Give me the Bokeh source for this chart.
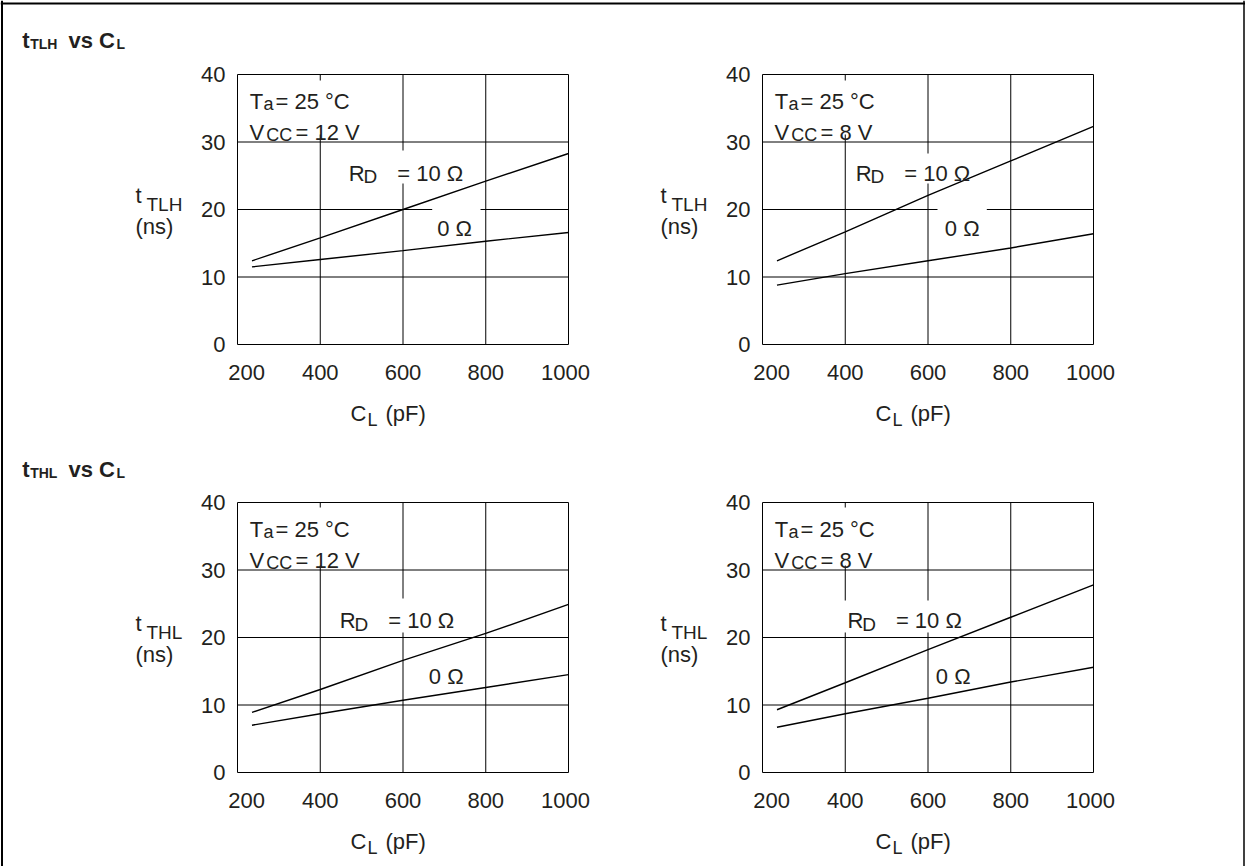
from bokeh.plotting import figure
from bokeh.models import Range1d, FixedTicker, Label, BoxAnnotation, LinearAxis, Span
from bokeh.embed import file_html
from bokeh.resources import INLINE

# ---- data ----
cl = [235, 400, 600, 800, 1000]
tlh_12v_10ohm = [12.4, 15.8, 20.0, 24.2, 28.3]
tlh_12v_0ohm = [11.5, 12.6, 13.9, 15.3, 16.6]
tlh_8v_10ohm = [12.4, 16.7, 22.1, 27.2, 32.3]
tlh_8v_0ohm = [8.8, 10.5, 12.4, 14.3, 16.4]
thl_12v_10ohm = [8.9, 12.3, 16.6, 20.6, 24.9]
thl_12v_0ohm = [7.0, 8.7, 10.7, 12.6, 14.5]
thl_8v_10ohm = [9.3, 13.3, 18.2, 23.0, 27.8]
thl_8v_0ohm = [6.7, 8.7, 11.0, 13.4, 15.6]
x_ticks = [200, 400, 600, 800, 1000]
y_ticks = [0, 10, 20, 30, 40]

FONT = "Liberation Sans"
TXT = "#231f20"
NB = "\u00a0"
W, H = 1245, 866
OX, OY = 0, 0          # page position of the canvas
XL, XR = (237, 568), (762, 1093)   # panel frames (page px)
YT, YB = (74, 344), (502, 772)

p = figure(width=W, height=H, output_backend="svg", toolbar_location=None,
           x_range=Range1d(OX, OX + W), y_range=Range1d(OY + H, OY),
           x_axis_type=None, y_axis_type=None,
           min_border=0, min_border_left=0, min_border_right=0,
           min_border_top=0, min_border_bottom=0,
           outline_line_color=None, background_fill_color="white",
           border_fill_color="white")


def xrange_for(L, R):
    k = (x_ticks[-1] - x_ticks[0]) / (R - L)
    return Range1d(x_ticks[0] - (L - OX) * k, x_ticks[-1] + (OX + W - R) * k)


def yrange_for(T, B):
    k = (y_ticks[-1] - y_ticks[0]) / (B - T)
    return Range1d(y_ticks[0] - (OY + H - B) * k, y_ticks[-1] + (T - OY) * k)


p.extra_x_ranges = {"xl": xrange_for(*XL), "xr": xrange_for(*XR)}
p.extra_y_ranges = {"yt": yrange_for(*YT), "yb": yrange_for(*YB)}


def lab(x, y, text, size=22, bold=False):
    p.add_layout(Label(x=x, y=y, text=text, text_font=FONT,
                       text_font_size=f"{size}px", text_color=TXT,
                       text_font_style="bold" if bold else "normal",
                       text_baseline="alphabetic", text_align="left"))


def mask(x0, y0, x1, y1):
    p.add_layout(BoxAnnotation(left=x0, right=x1, top=y0, bottom=y1,
                               fill_color="white", fill_alpha=1.0, line_color=None))


def panel(xn, yn, fx, fy, s10, s0, sub, vcc, rd, zero, masks):
    kw = dict(x_range_name=xn, y_range_name=yn)
    # grid + frame
    p.segment(x0=x_ticks, x1=x_ticks, y0=y_ticks[0], y1=y_ticks[-1],
              line_color="black", line_width=1, **kw)
    p.segment(x0=x_ticks[0], x1=x_ticks[-1], y0=y_ticks, y1=y_ticks,
              line_color="black", line_width=1, **kw)
    # axes (tick labels only)
    xa = LinearAxis(fixed_location=y_ticks[0], ticker=FixedTicker(ticks=x_ticks), **kw)
    ya = LinearAxis(fixed_location=x_ticks[0], ticker=FixedTicker(ticks=y_ticks), **kw)
    for ax in (xa, ya):
        ax.axis_line_color = None
        ax.major_tick_line_color = None
        ax.minor_tick_line_color = None
        ax.major_tick_out = 0
        ax.major_tick_in = 0
        ax.major_label_text_font = FONT
        ax.major_label_text_font_size = "22px"
        ax.major_label_text_color = TXT
    xa.major_label_standoff = 15
    ya.major_label_standoff = 12
    xa.major_label_overrides = {x_ticks[0]: NB * 3 + str(x_ticks[0]),
                                x_ticks[-1]: str(x_ticks[-1]) + NB}
    p.add_layout(xa, "below")
    p.add_layout(ya, "left")
    # curves
    p.line(cl, s10, line_color="black", line_width=1.4, **kw)
    p.line(cl, s0, line_color="black", line_width=1.4, **kw)
    # white gaps in the grid behind texts
    for (a, b, c, d) in masks:
        mask(fx + a, fy + b, fx + c, fy + d)
    # conditions
    lab(fx + 12.3, fy + 26.7, "T")
    lab(fx + 26, fy + 29.5, "a", 18)
    lab(fx + 38, fy + 26.7, "= 25 °C")
    lab(fx + 12, fy + 57.7, "V")
    lab(fx + 28.7, fy + 60.5, "CC", 18)
    lab(fx + 58, fy + 57.7, vcc)
    # curve labels
    rx, ry = rd
    lab(fx + rx, fy + ry, "R")
    lab(fx + rx + 14.7, fy + ry + 3.3, "D", 19)
    lab(fx + rx + 48.4, fy + ry, "= 10 Ω")
    lab(fx + zero[0], fy + zero[1], "0 Ω")
    # y-axis label
    lab(fx - 102, fy + 121, "t")
    lab(fx - 91, fy + 130, sub, 19)
    lab(fx - 102, fy + 152, "(ns)")
    # x-axis label
    lab(fx + 113, fy + 339, "C")
    lab(fx + 130, fy + 345, "L", 18)
    lab(fx + 148, fy + 339, "(pF)")


panel("xl", "yt", XL[0], YT[0], tlh_12v_10ohm, tlh_12v_0ohm, "TLH", "= 12 V",
      (111.3, 98.7), (199.7, 154),
      [(75, 6, 90, 60), (150, 76, 185, 109), (194.7, 130, 243, 140)])
panel("xr", "yt", XR[0], YT[0], tlh_8v_10ohm, tlh_8v_0ohm, "TLH", "= 8 V",
      (93.3, 98.7), (182.3, 154),
      [(75, 6, 90, 60), (150, 79, 185, 109), (175, 130, 224.3, 140)])
panel("xl", "yb", XL[0], YB[0], thl_12v_10ohm, thl_12v_0ohm, "THL", "= 12 V",
      (102.3, 118.3), (191.3, 174.3),
      [(75, 5, 90, 63), (150, 96, 180, 130)])
panel("xr", "yb", XR[0], YB[0], thl_8v_10ohm, thl_8v_0ohm, "THL", "= 8 V",
      (85, 118.3), (173.3, 174.3),
      [(75, 5, 90, 63), (75, 98, 90, 130), (155, 98, 180, 130)])

# section titles
for ty, sub in ((40, "TLH"), (469, "THL")):
    lab(21.7, ty, "t", 22, True)
    lab(29.7, ty + 3.3, sub, 14, True)
    lab(68, ty, "vs C", 22, True)
    lab(116, ty + 3.3, "L", 14, True)

# outer frame
p.add_layout(Span(location=1.5, dimension="height", line_color="black", line_width=2))
p.add_layout(Span(location=3, dimension="width", line_color="black", line_width=2))
p.add_layout(Span(location=1243.5, dimension="height", line_color="black", line_width=1.5))

open("out.html", "w").write(file_html(p, INLINE))
